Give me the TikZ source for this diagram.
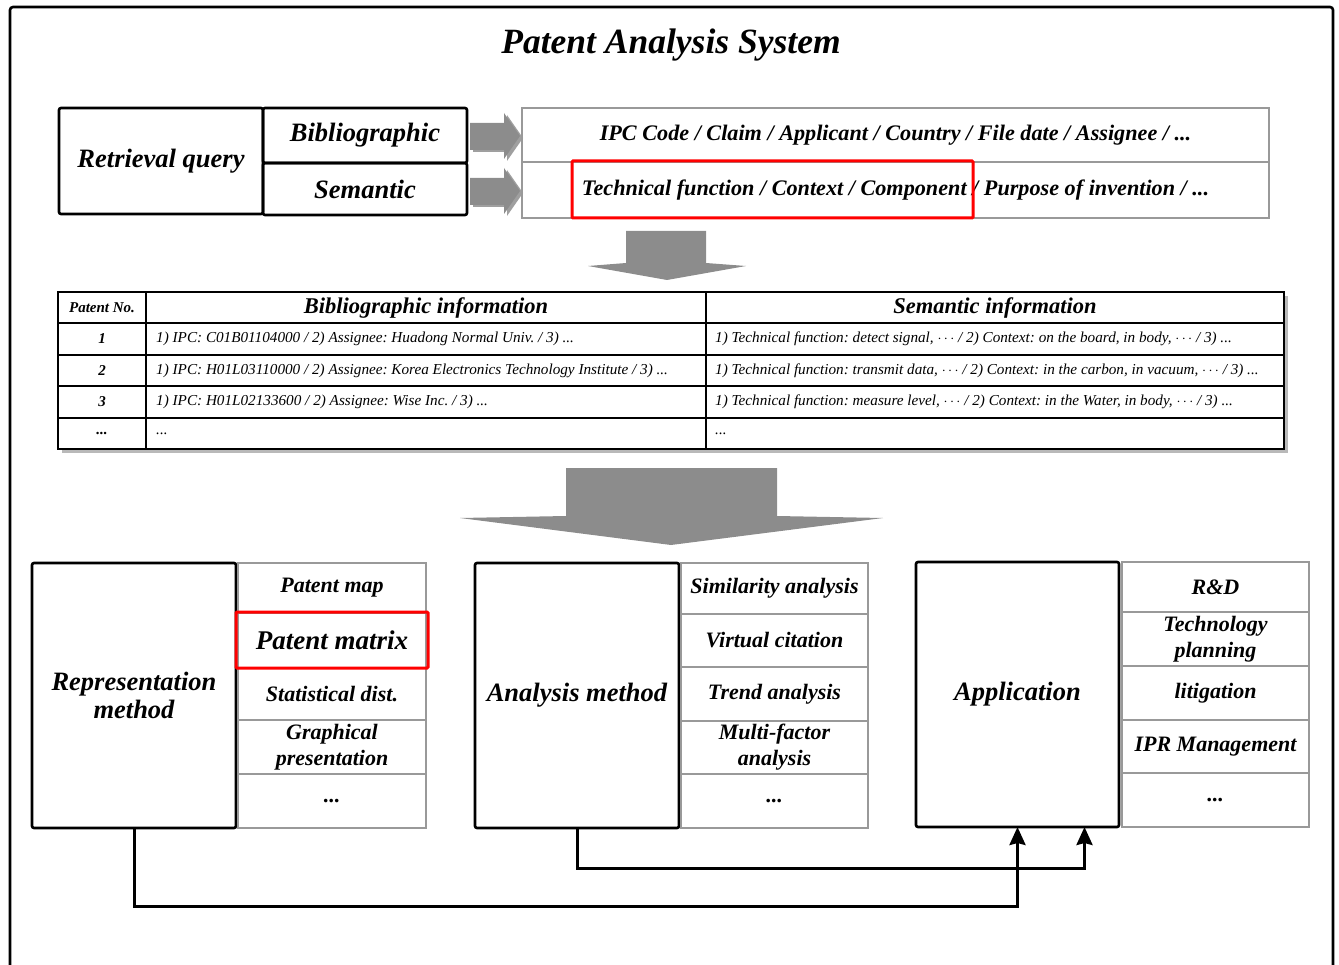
\documentclass[tikz,border=0pt]{standalone}
\usepackage{fontspec}
\setmainfont{Liberation Serif}
\usetikzlibrary{arrows.meta}
\definecolor{arrgray}{gray}{0.55}
\definecolor{boxgray}{gray}{0.6}
\frenchspacing
\newcommand\mybox[6]{\node[#1,minimum width={#4-#2},minimum height={#5-#3}] (#6) at ({(#2+#4)/2},{(#3+#5)/2})}
\tikzset{
  blk/.style={draw=black,line width=2.6pt,rounded corners=2pt,inner sep=0pt,outer sep=0pt,font=\bfseries\itshape,align=center},
  gry/.style={draw=boxgray,line width=1.8pt,inner sep=0pt,outer sep=0pt,font=\bfseries\itshape,align=center},
  redbox/.style={draw=red,line width=3pt,rounded corners=1pt,inner sep=0pt,outer sep=0pt},
  cell/.style={draw=black,line width=2.4pt,inner sep=0pt,outer sep=0pt},
  ctext/.style={inner sep=0pt,anchor=west,font=\itshape\fontsize{15.2}{17}\selectfont},
  blockarr/.style={fill=arrgray,draw=none},
  conn/.style={line width=3pt,draw=black},
  tip/.style={-{Stealth[length=18pt,width=16pt,inset=2pt]}}
}
\begin{document}
\begin{tikzpicture}[x=1pt,y=-1pt]
\useasboundingbox (0,0) rectangle (1339,965);
% outer frame
\draw[line width=2.6pt,rounded corners=3pt] (10,968) -- (10,7) -- (1333,7) -- (1333,968);
\node[font=\bfseries\itshape\fontsize{35.5}{38}\selectfont] (title) at (671,45) {Patent Analysis System};

% top query boxes
\mybox{blk,font=\bfseries\itshape\fontsize{26.5}{28}\selectfont}{59}{108}{263}{214}{rq}{Retrieval query};
\mybox{blk,font=\bfseries\itshape\fontsize{26.5}{28}\selectfont}{263}{108}{467}{163}{bib}{Bibliographic};
\mybox{blk,font=\bfseries\itshape\fontsize{26.5}{28}\selectfont}{263}{163}{467}{215}{sem}{Semantic};

% side block arrows
\foreach \yc/\nm in {136/a1,191/a2}{
  \fill[gray!50!black,opacity=0.5] (473,\yc-12) -- (507,\yc-12) -- (507,\yc-21) -- (523,\yc+2) -- (507,\yc+25) -- (507,\yc+16) -- (473,\yc+16) -- cycle;
  \fill[blockarr] (470,\yc-13) -- (504,\yc-13) -- (504,\yc-23) -- (520,\yc) -- (504,\yc+23) -- (504,\yc+14) -- (470,\yc+14) -- cycle;
}

% info box
\mybox{gry,font=\bfseries\itshape\fontsize{22.2}{24}\selectfont}{522}{108}{1269}{162}{info1}{IPC Code / Claim / Applicant / Country / File date / Assignee / ...};
\mybox{gry,font=\bfseries\itshape\fontsize{22.2}{24}\selectfont}{522}{162}{1269}{218}{info2}{Technical function / Context / Component / Purpose of invention / ...};
\mybox{redbox}{572}{161}{973}{218}{red1}{};

% down arrow 1
\fill[blockarr] (626,231) -- (706,231) -- (706,263) -- (746,266) -- (667,280) -- (588,266) -- (626,263) -- cycle;

% table shadow
\fill[gray!55] (62,296) rectangle (1288,453);
\fill[white] (58,292) rectangle (1284,449);
% header
\mybox{cell,font=\bfseries\itshape\fontsize{15}{17}\selectfont}{58}{292}{146}{323}{h0}{Patent No.};
\mybox{cell,font=\bfseries\itshape\fontsize{22.5}{24}\selectfont}{146}{292}{706}{323}{h1}{Bibliographic information};
\mybox{cell,font=\bfseries\itshape\fontsize{22.5}{24}\selectfont}{706}{292}{1284}{323}{h2}{Semantic information};
% rows
\mybox{cell,font=\bfseries\itshape\fontsize{15}{17}\selectfont}{58}{323}{146}{355}{n1}{1};
\mybox{cell}{146}{323}{706}{355}{b1}{};
\mybox{cell}{706}{323}{1284}{355}{s1}{};
\mybox{cell,font=\bfseries\itshape\fontsize{15}{17}\selectfont}{58}{355}{146}{386}{n2}{2};
\mybox{cell}{146}{355}{706}{386}{b2}{};
\mybox{cell}{706}{355}{1284}{386}{s2}{};
\mybox{cell,font=\bfseries\itshape\fontsize{15}{17}\selectfont}{58}{386}{146}{418}{n3}{3};
\mybox{cell}{146}{386}{706}{418}{b3}{};
\mybox{cell}{706}{386}{1284}{418}{s3}{};
\mybox{cell,font=\bfseries\itshape\fontsize{15}{17}\selectfont}{58}{418}{146}{449}{n4}{...};
\mybox{cell}{146}{418}{706}{449}{b4}{};
\mybox{cell}{706}{418}{1284}{449}{s4}{};
\node[ctext] (tb1) at ([xshift=10pt]b1.west) {1) IPC: C01B01104000 / 2) Assignee: Huadong Normal Univ. / 3) ...};
\node[ctext] (tb2) at ([xshift=10pt]b2.west) {1) IPC: H01L03110000 / 2) Assignee: Korea Electronics Technology Institute / 3) ...};
\node[ctext] (tb3) at ([xshift=10pt]b3.west) {1) IPC: H01L02133600 / 2) Assignee: Wise Inc. / 3) ...};
\node[ctext] (tb4) at ([xshift=10pt]b4.west) {...};
\node[ctext] (ts1) at ([xshift=9pt]s1.west) {1) Technical function: detect signal, $\cdots$ / 2) Context: on the board, in body, $\cdots$ / 3) ...};
\node[ctext] (ts2) at ([xshift=9pt]s2.west) {1) Technical function: transmit data, $\cdots$ / 2) Context: in the carbon, in vacuum, $\cdots$ / 3) ...};
\node[ctext] (ts3) at ([xshift=9pt]s3.west) {1) Technical function: measure level, $\cdots$ / 2) Context: in the Water, in body, $\cdots$ / 3) ...};
\node[ctext] (ts4) at ([xshift=9pt]s4.west) {...};

% big down arrow
\fill[blockarr] (566,468) -- (777,468) -- (777,516) -- (883,518) -- (671,545) -- (460,518) -- (566,516) -- cycle;

% bottom sections
\tikzset{bigf/.style={font=\bfseries\itshape\fontsize{26.5}{28}\selectfont},
         subf/.style={font=\bfseries\itshape\fontsize{22}{26}\selectfont}}
\mybox{blk,bigf}{32}{563}{236}{828}{rep}{Representation\\method};
\mybox{gry,subf}{238}{563}{426}{613}{r1}{Patent map};
\mybox{gry,subf}{238}{613}{426}{668}{r2}{};
\mybox{gry,subf}{238}{668}{426}{720}{r3}{Statistical dist.};
\mybox{gry,subf}{238}{720}{426}{774}{r4}{Graphical\\presentation};
\mybox{gry,subf}{238}{774}{426}{828}{r5}{...};
\mybox{redbox,font=\bfseries\itshape\fontsize{27}{28}\selectfont}{236}{612}{428}{668}{red2}{Patent matrix};

\mybox{blk,bigf}{475}{563}{679}{828}{ana}{Analysis method};
\mybox{gry,subf}{681}{563}{868}{614}{m1}{Similarity analysis};
\mybox{gry,subf}{681}{614}{868}{667}{m2}{Virtual citation};
\mybox{gry,subf}{681}{667}{868}{721}{m3}{Trend analysis};
\mybox{gry,subf}{681}{721}{868}{774}{m4}{Multi-factor\\analysis};
\mybox{gry,subf}{681}{774}{868}{828}{m5}{...};

\mybox{blk,bigf}{916}{562}{1119}{827}{app}{Application};
\mybox{gry,subf}{1122}{562}{1309}{612}{p1}{R\&D};
\mybox{gry,subf}{1122}{612}{1309}{666}{p2}{Technology\\planning};
\mybox{gry,subf}{1122}{666}{1309}{720}{p3}{litigation};
\mybox{gry,subf}{1122}{720}{1309}{773}{p4}{IPR Management};
\mybox{gry,subf}{1122}{773}{1309}{827}{p5}{...};

% connectors
\draw[conn,tip] (ana.south) -- ++(0,40) -| ([xshift=67pt]app.south);
\draw[conn,tip] (rep.south) -- ++(0,78) -| (app.south);
\end{tikzpicture}
\end{document}
